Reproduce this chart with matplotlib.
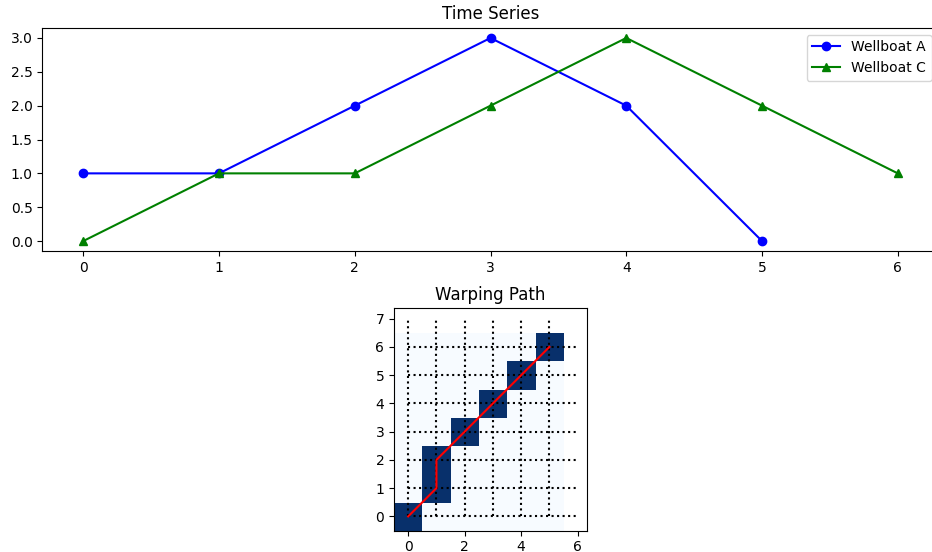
import numpy as np
import matplotlib
matplotlib.use("Agg")
import matplotlib.pyplot as plt

# Two series compared with dynamic time warping
series_a = [1, 1, 2, 3, 2, 0]
series_c = [0, 1, 1, 2, 3, 2, 1]
label_a = "Wellboat A"
label_c = "Wellboat C"

# Optimal warping path as (index in A, index in C)
path_a = [0, 1, 1, 2, 3, 4, 5]
path_c = [0, 1, 2, 3, 4, 5, 6]

fig = plt.figure(figsize=(9.32, 5.52), dpi=100)

# --- time series ---
ax1 = fig.add_axes([0.0456, 0.5449, 0.9614, 0.4047])
ax1.plot(range(len(series_a)), series_a, "bo-", label=label_a)
ax1.plot(range(len(series_c)), series_c, "g^-", label=label_c)
ax1.set_title("Time Series")
ax1.legend(loc="upper right")

# --- warping path ---
n, m = len(series_a), len(series_c)
path_matrix = np.zeros((m, n))
for i, j in zip(path_a, path_c):
    path_matrix[j, i] = 1

ax2 = fig.add_axes([0.4225, 0.0389, 0.2075, 0.403])
ax2.imshow(path_matrix, cmap="Blues", origin="lower", interpolation="nearest")
for i in range(n):
    ax2.plot([i, i], [0, m], "k:")
for j in range(m):
    ax2.plot([0, n], [j, j], "k:")
ax2.plot(path_a, path_c, "r-")
ax2.set_title("Warping Path")

fig.savefig("out.png", dpi=100)
